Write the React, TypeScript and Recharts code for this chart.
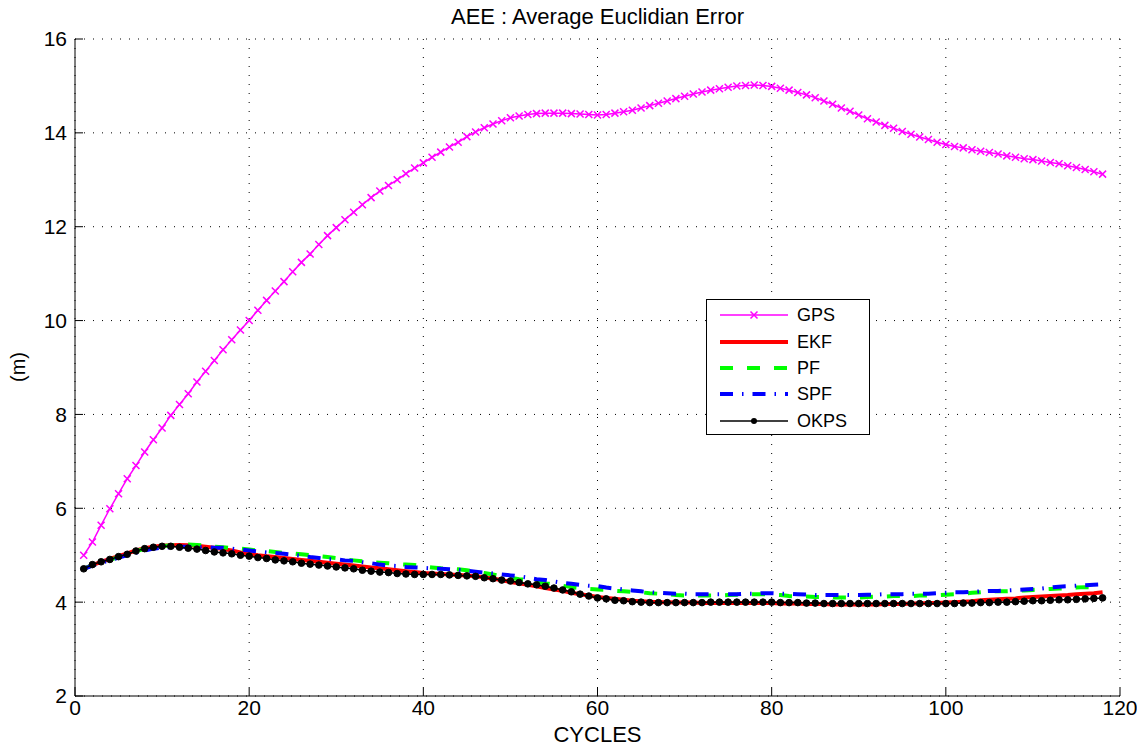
import React from 'react';
import { LineChart, Line, XAxis, YAxis, CartesianGrid, Legend } from 'recharts';

// values, one per cycle (1..118)
const gps = [
	5.0, 5.28, 5.64, 5.99, 6.31, 6.63, 6.91, 7.2, 7.46, 7.71,
	7.98, 8.21, 8.44, 8.69, 8.92, 9.15, 9.38, 9.59, 9.8, 10.0,
	10.22, 10.43, 10.63, 10.83, 11.04, 11.24, 11.42, 11.62, 11.81, 11.98,
	12.15, 12.31, 12.47, 12.62, 12.76, 12.88, 13.0, 13.13, 13.25, 13.36,
	13.48, 13.59, 13.7, 13.8, 13.92, 14.02, 14.11, 14.19, 14.26, 14.32,
	14.36, 14.39, 14.41, 14.42, 14.42, 14.42, 14.41, 14.4, 14.39, 14.38,
	14.39, 14.42, 14.45, 14.48, 14.53, 14.58, 14.63, 14.68, 14.73, 14.78,
	14.83, 14.87, 14.91, 14.94, 14.97, 15.0, 15.01, 15.02, 15.01, 14.99,
	14.95, 14.91, 14.86, 14.81, 14.75, 14.68, 14.61, 14.53, 14.46, 14.38,
	14.3, 14.23, 14.16, 14.1, 14.03, 13.97, 13.91, 13.86, 13.8, 13.75,
	13.71, 13.68, 13.64, 13.61, 13.58, 13.55, 13.51, 13.48, 13.45, 13.43,
	13.4, 13.37, 13.34, 13.3, 13.26, 13.22, 13.17, 13.12,
];

const ekf = [
	4.71, 4.79, 4.86, 4.92, 4.98, 5.04, 5.1, 5.15, 5.18, 5.2,
	5.21, 5.22, 5.21, 5.2, 5.18, 5.16, 5.13, 5.1, 5.06, 5.03,
	5.0, 4.98, 4.96, 4.94, 4.92, 4.9, 4.88, 4.86, 4.84, 4.82,
	4.8, 4.78, 4.76, 4.74, 4.72, 4.7, 4.68, 4.66, 4.64, 4.62,
	4.61, 4.6, 4.59, 4.58, 4.57, 4.55, 4.53, 4.5, 4.47, 4.43,
	4.4, 4.37, 4.34, 4.3, 4.27, 4.24, 4.2, 4.17, 4.14, 4.11,
	4.09, 4.07, 4.05, 4.03, 4.02, 4.01, 4.0, 4.0, 3.99, 3.99,
	3.99, 3.98, 3.98, 3.98, 3.98, 3.98, 3.98, 3.98, 3.98, 3.98,
	3.97, 3.97, 3.97, 3.96, 3.96, 3.96, 3.95, 3.95, 3.95, 3.95,
	3.95, 3.95, 3.96, 3.96, 3.96, 3.97, 3.97, 3.98, 3.98, 3.99,
	4.0, 4.01, 4.02, 4.04, 4.05, 4.06, 4.07, 4.08, 4.1, 4.11,
	4.12, 4.13, 4.14, 4.15, 4.17, 4.18, 4.19, 4.21,
];

const pf = [
	4.71, 4.79, 4.85, 4.9, 4.96, 5.02, 5.08, 5.14, 5.17, 5.19,
	5.21, 5.22, 5.23, 5.22, 5.2, 5.18, 5.17, 5.15, 5.14, 5.12,
	5.1, 5.09, 5.07, 5.05, 5.04, 5.02, 5.0, 4.98, 4.96, 4.94,
	4.91, 4.89, 4.87, 4.85, 4.84, 4.83, 4.81, 4.8, 4.79, 4.76,
	4.74, 4.72, 4.71, 4.7, 4.68, 4.65, 4.62, 4.59, 4.55, 4.52,
	4.49, 4.47, 4.43, 4.4, 4.38, 4.35, 4.32, 4.3, 4.28, 4.27,
	4.26, 4.24, 4.23, 4.22, 4.21, 4.19, 4.18, 4.17, 4.15, 4.14,
	4.14, 4.14, 4.14, 4.14, 4.15, 4.16, 4.17, 4.17, 4.17, 4.16,
	4.15, 4.13, 4.12, 4.12, 4.11, 4.11, 4.1, 4.1, 4.1, 4.1,
	4.11, 4.12, 4.12, 4.13, 4.13, 4.13, 4.14, 4.14, 4.15, 4.16,
	4.17, 4.18, 4.2, 4.21, 4.23, 4.23, 4.23, 4.24, 4.25, 4.26,
	4.27, 4.28, 4.29, 4.3, 4.31, 4.32, 4.32, 4.33,
];

const spf = [
	4.71, 4.78, 4.84, 4.89, 4.95, 5.0, 5.05, 5.1, 5.14, 5.16,
	5.17, 5.18, 5.18, 5.17, 5.17, 5.16, 5.16, 5.14, 5.12, 5.1,
	5.08, 5.06, 5.05, 5.03, 5.01, 4.99, 4.96, 4.94, 4.92, 4.91,
	4.89, 4.88, 4.85, 4.83, 4.8, 4.78, 4.77, 4.75, 4.74, 4.73,
	4.72, 4.71, 4.7, 4.69, 4.67, 4.65, 4.63, 4.61, 4.59, 4.57,
	4.55, 4.52, 4.49, 4.47, 4.44, 4.41, 4.39, 4.37, 4.35, 4.34,
	4.31, 4.29, 4.27, 4.25, 4.23, 4.21, 4.2, 4.19, 4.18, 4.18,
	4.17, 4.17, 4.17, 4.17, 4.17, 4.17, 4.18, 4.18, 4.19, 4.19,
	4.18, 4.18, 4.17, 4.16, 4.15, 4.15, 4.15, 4.15, 4.15, 4.15,
	4.16, 4.16, 4.17, 4.17, 4.17, 4.18, 4.18, 4.18, 4.19, 4.2,
	4.21, 4.21, 4.22, 4.23, 4.24, 4.24, 4.25, 4.26, 4.27, 4.28,
	4.29, 4.31, 4.33, 4.34, 4.35, 4.36, 4.37, 4.38,
];

const okps = [
	4.71, 4.8, 4.86, 4.91, 4.97, 5.02, 5.09, 5.14, 5.17, 5.19,
	5.19, 5.17, 5.15, 5.13, 5.1, 5.07, 5.05, 5.03, 5.0, 4.98,
	4.95, 4.93, 4.9, 4.88, 4.86, 4.83, 4.81, 4.79, 4.77, 4.75,
	4.73, 4.71, 4.68, 4.66, 4.64, 4.63, 4.61, 4.6, 4.59, 4.59,
	4.59, 4.59, 4.58, 4.57, 4.56, 4.55, 4.52, 4.5, 4.47, 4.45,
	4.42, 4.39, 4.37, 4.34, 4.3, 4.26, 4.22, 4.17, 4.13, 4.09,
	4.07, 4.04, 4.03, 4.01, 4.0, 3.99, 3.99, 3.99, 3.99, 3.99,
	3.99, 3.99, 4.0, 4.0, 4.0, 4.0, 4.0, 4.0, 4.0, 4.0,
	3.99, 3.99, 3.99, 3.98, 3.98, 3.97, 3.97, 3.97, 3.97, 3.97,
	3.97, 3.97, 3.97, 3.97, 3.97, 3.97, 3.97, 3.97, 3.97, 3.97,
	3.97, 3.98, 3.98, 3.99, 3.99, 4.0, 4.0, 4.01, 4.02, 4.03,
	4.03, 4.04, 4.05, 4.05, 4.06, 4.07, 4.08, 4.09,
];

const cycles = gps.map((_, i) => i + 1);
const xTicks = [0, 20, 40, 60, 80, 100, 120];
const yTicks = [2, 4, 6, 8, 10, 12, 14, 16];

const data = cycles.map((c, i) => ({
	cycle: c,
	GPS: gps[i],
	EKF: ekf[i],
	PF: pf[i],
	SPF: spf[i],
	OKPS: okps[i],
}));

const FONT = '"Liberation Sans", Arial, Helvetica, sans-serif';

const series = [
	{ key: 'GPS', color: '#FF00FF', width: 1.5, dash: undefined, mark: 'x' },
	{ key: 'EKF', color: '#FF0000', width: 4, dash: undefined, mark: null },
	{ key: 'PF', color: '#00FF00', width: 4, dash: '13 14', mark: null },
	{ key: 'SPF', color: '#0000FF', width: 4, dash: '13 9 1.5 9', mark: null },
	{ key: 'OKPS', color: '#000000', width: 1.5, dash: undefined, mark: 'dot' },
];

const crossMark = (props) => {
	const { cx, cy, index } = props;
	if (cx == null || cy == null) return <g key={`x-${index}`} />;
	const s = 3.5;
	return (
		<path
			key={`x-${index}`}
			d={`M${cx - s},${cy - s}L${cx + s},${cy + s}M${cx - s},${cy + s}L${cx + s},${cy - s}`}
			stroke="#FF00FF"
			strokeWidth={1.5}
			fill="none"
		/>
	);
};

const dotMark = (props) => {
	const { cx, cy, index } = props;
	if (cx == null || cy == null) return <g key={`o-${index}`} />;
	return <circle key={`o-${index}`} cx={cx} cy={cy} r={3.3} fill="#000" stroke="#000" strokeWidth={1} />;
};

const emptyTick = () => <g />;

const renderLegend = () => (
	<div
		style={{
			width: 164,
			height: 136,
			border: '1px solid #000',
			background: '#fff',
			boxSizing: 'border-box',
			paddingTop: 2,
			fontFamily: FONT,
			fontSize: 18,
		}}
	>
		{series.map((s) => (
			<div key={s.key} style={{ height: 26.4, display: 'flex', alignItems: 'center' }}>
				<svg width={90} height={20} style={{ display: 'block' }}>
					<line x1={13} y1={10} x2={81} y2={10} stroke={s.color} strokeWidth={s.width} strokeDasharray={s.dash} />
					{s.mark === 'x' && (
						<path d="M43.5,6.5L50.5,13.5M43.5,13.5L50.5,6.5" stroke={s.color} strokeWidth={1.5} />
					)}
					{s.mark === 'dot' && <circle cx={47} cy={10} r={3} fill="#000" />}
				</svg>
				<span style={{ lineHeight: '20px' }}>{s.key}</span>
			</div>
		))}
	</div>
);

export default function App() {
	return (
		<div style={{ position: 'absolute', left: 0, top: 0, width: 1137, height: 747, background: '#fff' }}>
			<div
				style={{
					position: 'absolute',
					left: 75,
					width: 1045,
					top: 4,
					textAlign: 'center',
					fontFamily: FONT,
					fontSize: 22,
					lineHeight: '26px',
					color: '#000',
				}}
			>
				AEE : Average Euclidian Error
			</div>
			<LineChart
				width={1137}
				height={747}
				data={data}
				margin={{ top: 39, right: 17, bottom: 0, left: 0 }}
				style={{ fontFamily: FONT }}
			>
				<CartesianGrid stroke="#000" strokeDasharray="1 8" strokeWidth={1} />
				<XAxis
					dataKey="cycle"
					type="number"
					domain={[0, 120]}
					ticks={xTicks}
					height={51}
					tickSize={-8}
					tickMargin={12}
					axisLine={{ stroke: '#000' }}
					tickLine={{ stroke: '#000' }}
					tick={{ fill: '#000', fontSize: 21 }}
					label={({ viewBox }) => (
						<text
							x={viewBox.x + viewBox.width / 2}
							y={742}
							textAnchor="middle"
							fontSize={22}
							fill="#000"
						>
							CYCLES
						</text>
					)}
				/>
				<XAxis
					xAxisId="top"
					orientation="top"
					dataKey="cycle"
					type="number"
					domain={[0, 120]}
					ticks={xTicks}
					height={0}
					tickSize={-8}
					axisLine={{ stroke: '#000' }}
					tickLine={{ stroke: '#000' }}
					tick={emptyTick}
				/>
				<YAxis
					type="number"
					domain={[2, 16]}
					ticks={yTicks}
					width={75}
					tickSize={-8}
					tickMargin={16}
					axisLine={{ stroke: '#000' }}
					tickLine={{ stroke: '#000' }}
					tick={{ fill: '#000', fontSize: 21 }}
					label={() => (
						<text x={25} y={367} transform="rotate(-90, 25, 367)" textAnchor="middle" fontSize={20} fill="#000">
							(m)
						</text>
					)}
				/>
				<YAxis
					yAxisId="right"
					orientation="right"
					type="number"
					domain={[2, 16]}
					ticks={yTicks}
					width={0}
					tickSize={-8}
					axisLine={{ stroke: '#000' }}
					tickLine={{ stroke: '#000' }}
					tick={emptyTick}
				/>
				<Legend
					layout="vertical"
					align="center"
					verticalAlign="middle"
					content={renderLegend}
					wrapperStyle={{ left: 706, top: 299, width: 164, height: 136 }}
				/>
				{series.map((s) => (
					<Line
						key={s.key}
						dataKey={s.key}
						type="linear"
						stroke={s.color}
						strokeWidth={s.width}
						strokeDasharray={s.dash}
						dot={s.mark === 'x' ? crossMark : s.mark === 'dot' ? dotMark : false}
						activeDot={false}
						isAnimationActive={false}
					/>
				))}
			</LineChart>
		</div>
	);
}
